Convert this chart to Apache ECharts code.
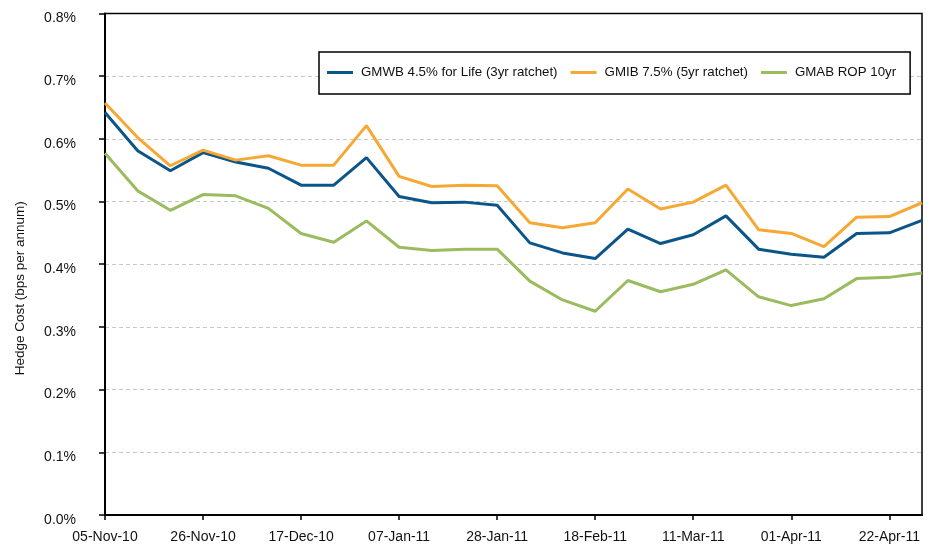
<!DOCTYPE html>
<html>
<head>
<meta charset="utf-8">
<script src="https://cdn.jsdelivr.net/npm/echarts@6/dist/echarts.min.js"></script>
<style>
html,body{margin:0;padding:0;background:#fff;}
#chart{width:936px;height:553px;}
</style>
</head>
<body>
<div id="chart"></div>
<script>
const dates = ['05-Nov-10','12-Nov-10','19-Nov-10','26-Nov-10','03-Dec-10','10-Dec-10','17-Dec-10','24-Dec-10','31-Dec-10',
  '07-Jan-11','14-Jan-11','21-Jan-11','28-Jan-11','04-Feb-11','11-Feb-11','18-Feb-11','25-Feb-11',
  '04-Mar-11','11-Mar-11','18-Mar-11','25-Mar-11','01-Apr-11','08-Apr-11','15-Apr-11','22-Apr-11','29-Apr-11'];
const gmwb = [0.642,0.581,0.549,0.578,0.563,0.553,0.526,0.526,0.570,0.508,0.498,0.499,0.494,0.434,0.418,0.409,0.456,0.433,0.447,0.477,0.424,0.416,0.411,0.449,0.450,0.470];
const gmib = [0.657,0.602,0.557,0.582,0.566,0.573,0.558,0.558,0.621,0.540,0.524,0.526,0.525,0.466,0.458,0.466,0.520,0.488,0.499,0.526,0.455,0.449,0.428,0.475,0.476,0.498];
const gmab = [0.577,0.517,0.486,0.511,0.509,0.489,0.449,0.435,0.469,0.427,0.422,0.424,0.424,0.373,0.343,0.325,0.374,0.356,0.368,0.391,0.348,0.334,0.345,0.377,0.379,0.386];
const seriesNames = ['GMWB 4.5% for Life (3yr ratchet)','GMIB 7.5% (5yr ratchet)','GMAB ROP 10yr'];
const yAxisTitle = 'Hedge Cost (bps per annum)';

const font = "'Liberation Sans', Arial, Helvetica, sans-serif";
const colors = ['#0b5589','#f5a833','#9bbb5f'];
const chart = echarts.init(document.getElementById('chart'), null, {renderer:'canvas'});
chart.setOption({
  animation:false,
  backgroundColor:'#fff',
  color: colors,
  textStyle:{fontFamily:font},
  grid:{left:105,right:14,top:13.4,bottom:38,show:true,borderColor:'#000',borderWidth:1.5,backgroundColor:'transparent'},
  legend:{
    left:319, top:52, padding:[14,14,15,8],
    borderColor:'#000', borderWidth:1.5, backgroundColor:'#fff',
    icon:'rect', itemWidth:26, itemHeight:3, itemGap:13,
    textStyle:{fontFamily:font,fontSize:13.3,color:'#111',padding:[0,0,0,3]},
    data: seriesNames
  },
  xAxis:{
    type:'category', data:dates, boundaryGap:false,
    axisLine:{lineStyle:{color:'#000',width:2}},
    axisTick:{show:true,interval:2,length:5,lineStyle:{color:'#000',width:1.5}},
    axisLabel:{interval:2,margin:15,fontSize:14,color:'#111',fontFamily:font},
    splitLine:{show:false}
  },
  yAxis:{
    type:'value', min:0, max:0.8, interval:0.1,
    name: yAxisTitle, nameLocation:'middle', nameGap:78,
    nameTextStyle:{fontSize:13.5,color:'#111',fontFamily:font,padding:[0,48,0,0]},
    axisLine:{show:true,lineStyle:{color:'#000',width:2}},
    axisTick:{show:true,length:6,lineStyle:{color:'#000',width:1.5}},
    axisLabel:{margin:29,fontSize:14,color:'#111',fontFamily:font,verticalAlign:'top',lineHeight:10,
      formatter:v=>v.toFixed(1)+'%'},
    splitLine:{show:true,showMinLine:false,showMaxLine:false,lineStyle:{color:'#c8c8c8',type:[4,3],width:1}}
  },
  series:[
    {name:seriesNames[0],type:'line',data:gmwb,symbol:'none',lineStyle:{width:3}},
    {name:seriesNames[1],type:'line',data:gmib,symbol:'none',lineStyle:{width:3}},
    {name:seriesNames[2],type:'line',data:gmab,symbol:'none',lineStyle:{width:3}}
  ]
});
</script>
</body>
</html>
